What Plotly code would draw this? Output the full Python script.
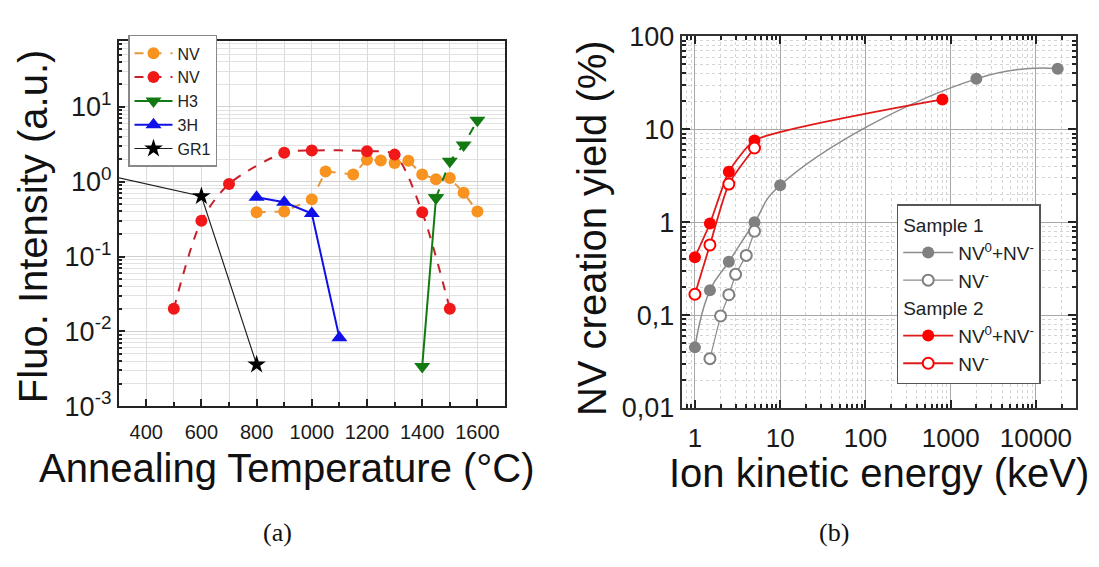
import plotly.graph_objects as go

# ---------------- (a) annealing study ----------------
nv1_temp = [800, 900, 1000, 1050, 1150, 1200, 1250, 1300, 1350, 1400, 1450, 1500, 1550, 1600]
nv1_val = [0.39, 0.40, 0.58, 1.37, 1.25, 1.96, 1.92, 1.78, 1.90, 1.25, 1.08, 1.12, 0.71, 0.40]

nv2_temp = [500, 600, 700, 900, 1000, 1200, 1300, 1400, 1500]
nv2_val = [0.020, 0.30, 0.93, 2.44, 2.61, 2.56, 2.30, 0.39, 0.020]

h3_temp = [1400, 1450, 1500, 1550, 1600]
h3_val = [0.0034, 0.61, 1.87, 3.1, 6.6]

h3b_temp = [800, 900, 1000, 1100]
h3b_val = [0.62, 0.53, 0.376, 0.0082]

gr1_temp = [25, 600, 800]
gr1_val = [1.9, 0.64, 0.0036]

temp_ticks = [400, 600, 800, 1000, 1200, 1400, 1600]
fluo_ticks = [1e-3, 1e-2, 1e-1, 1, 10]
fluo_ticktext = ["10<sup>-3</sup>", "10<sup>-2</sup>", "10<sup>-1</sup>", "10<sup>0</sup>", "10<sup>1</sup>"]

# ---------------- (b) creation yield vs energy ----------------
s1_tot_e = [1, 1.5, 2.5, 5, 10, 2000, 18000]
s1_tot_y = [0.045, 0.185, 0.376, 1.0, 2.5, 35, 45]

s1_neg_e = [1.5, 2, 2.5, 3, 4, 5]
s1_neg_y = [0.034, 0.098, 0.166, 0.275, 0.44, 0.80]

s2_tot_e = [1, 1.5, 2.5, 5, 800]
s2_tot_y = [0.42, 0.97, 3.5, 7.6, 21]

s2_neg_e = [1, 1.5, 2.5, 5]
s2_neg_y = [0.168, 0.57, 2.58, 6.3]

yield_ticks = [0.01, 0.1, 1, 10, 100]
yield_ticktext = ["0,01", "0,1", "1", "10", "100"]
energy_ticks = [1, 10, 100, 1000, 10000]
energy_ticktext = ["1", "10", "100", "1000", "10000"]

FONT = "Liberation Sans"
W, H = 1099, 567

ORANGE = "#F7931E"
ORANGE_LINE = "#E8963C"
RED = "#F01818"
RED_DASH = "#C8202A"
GREEN = "#137A13"
BLUE = "#1010E8"
GREY = "#808080"
GREY_LINE = "#8C8C8C"
RED_LINE = "#E01A1A"

fig = go.Figure()

# panel (a) traces
fig.add_trace(go.Scatter(
    x=nv1_temp, y=nv1_val, mode="lines+markers", name="NV",
    line=dict(color=ORANGE_LINE, width=2, dash="dash"),
    marker=dict(color=ORANGE, size=12, symbol="circle"),
    xaxis="x", yaxis="y", legend="legend"))
fig.add_trace(go.Scatter(
    x=nv2_temp, y=nv2_val, mode="lines+markers", name="NV",
    line=dict(color=RED_DASH, width=2, dash="dash", shape="spline", smoothing=0.8),
    marker=dict(color=RED, size=12, symbol="circle"),
    xaxis="x", yaxis="y", legend="legend"))
fig.add_trace(go.Scatter(
    x=h3_temp[:2], y=h3_val[:2], mode="lines+markers", name="H3",
    line=dict(color=GREEN, width=2),
    marker=dict(color=GREEN, size=14, symbol="triangle-down"),
    xaxis="x", yaxis="y", legend="legend", legendgroup="h3"))
fig.add_trace(go.Scatter(
    x=h3_temp[1:], y=h3_val[1:], mode="lines+markers", name="H3",
    line=dict(color=GREEN, width=2, dash="dash"),
    marker=dict(color=GREEN, size=14, symbol="triangle-down"),
    xaxis="x", yaxis="y", showlegend=False, legendgroup="h3"))
fig.add_trace(go.Scatter(
    x=h3b_temp, y=h3b_val, mode="lines+markers", name="3H",
    line=dict(color=BLUE, width=2),
    marker=dict(color=BLUE, size=14, symbol="triangle-up"),
    xaxis="x", yaxis="y", legend="legend"))
fig.add_trace(go.Scatter(
    x=gr1_temp, y=gr1_val, mode="lines+markers", name="GR1",
    line=dict(color="#202020", width=1.2),
    marker=dict(color="black", size=14, symbol="star"),
    xaxis="x", yaxis="y", legend="legend"))

# panel (b) traces
fig.add_trace(go.Scatter(
    x=s1_tot_e, y=s1_tot_y, mode="lines+markers", name="NV<sup>0</sup>+NV<sup>-</sup>",
    line=dict(color=GREY_LINE, width=1.5, shape="spline", smoothing=1.3),
    marker=dict(color=GREY, size=12, symbol="circle"),
    xaxis="x2", yaxis="y2", legend="legend2",
    legendgroup="s1", legendgrouptitle=dict(text="Sample 1", font=dict(family=FONT, size=19, color="#222"))))
fig.add_trace(go.Scatter(
    x=s1_neg_e, y=s1_neg_y, mode="lines+markers", name="NV<sup>-</sup>",
    line=dict(color=GREY_LINE, width=1.2),
    marker=dict(color="white", size=11, symbol="circle", line=dict(color=GREY, width=2)),
    xaxis="x2", yaxis="y2", legend="legend2", legendgroup="s1"))
fig.add_trace(go.Scatter(
    x=s2_tot_e, y=s2_tot_y, mode="lines+markers", name="NV<sup>0</sup>+NV<sup>-</sup>",
    line=dict(color=RED_LINE, width=1.8, shape="spline", smoothing=0.5),
    marker=dict(color="#FF0000", size=12, symbol="circle"),
    xaxis="x2", yaxis="y2", legend="legend2",
    legendgroup="s2", legendgrouptitle=dict(text="Sample 2", font=dict(family=FONT, size=19, color="#222"))))
fig.add_trace(go.Scatter(
    x=s2_neg_e, y=s2_neg_y, mode="lines+markers", name="NV<sup>-</sup>",
    line=dict(color=RED_LINE, width=1.8, shape="spline", smoothing=0.6),
    marker=dict(color="white", size=11, symbol="circle", line=dict(color="#FF0000", width=2)),
    xaxis="x2", yaxis="y2", legend="legend2", legendgroup="s2"))


def px_x(p):
    return p / W


def px_y(p):
    return 1 - p / H


def log_minors(lo, hi):
    vals = []
    for d in range(lo, hi):
        for m in range(2, 10):
            vals.append(m * 10.0 ** d)
    return vals


fig.update_layout(
    width=W, height=H,
    margin=dict(l=0, r=0, t=0, b=0),
    paper_bgcolor="white", plot_bgcolor="white",
    font=dict(family=FONT, color="#1a1a1a"),
    xaxis=dict(
        domain=[px_x(118.6), px_x(505)], anchor="y",
        range=[300, 1700], tickvals=temp_ticks,
        ticks="inside", ticklen=7, tickwidth=1.5, tickcolor="#222",
        showline=True, linecolor="#222", linewidth=1.5, mirror=True,
        showgrid=True, gridcolor="#DADADA", gridwidth=1,
        tickfont=dict(size=20, color="#1a1a1a"), ticklabelstandoff=7,
        minor=dict(dtick=100, tick0=0, ticks="inside", ticklen=4, tickcolor="#222",
                   showgrid=True, gridcolor="#DADADA"),
        zeroline=False,
    ),
    yaxis=dict(
        domain=[px_y(413), px_y(27)], anchor="x", type="log",
        range=[-3, 1.886], tickvals=fluo_ticks, ticktext=fluo_ticktext,
        ticks="inside", ticklen=7, tickwidth=1.5, tickcolor="#222",
        showline=True, linecolor="#222", linewidth=1.5, mirror=True,
        showgrid=True, gridcolor="#D0D0D0", gridwidth=1,
        tickfont=dict(size=27, color="#1a1a1a"),
        minor=dict(tickvals=log_minors(-3, 2), ticks="inside", ticklen=4, tickcolor="#222",
                   showgrid=True, gridcolor="#E2E2E2"),
        zeroline=False,
    ),
    xaxis2=dict(
        domain=[px_x(681.7), px_x(1076)], anchor="y2", type="log",
        range=[-0.155, 4.47], tickvals=energy_ticks, ticktext=energy_ticktext,
        ticks="inside", ticklen=8, tickwidth=1.5, tickcolor="#222",
        showline=True, linecolor="#333", linewidth=2, mirror="allticks",
        showgrid=True, gridcolor="#A8A8A8", gridwidth=1,
        tickfont=dict(size=26, color="#1a1a1a"), ticklabelstandoff=6,
        minor=dict(tickvals=log_minors(-1, 5), ticks="inside", ticklen=4, tickcolor="#222",
                   showgrid=True, gridcolor="#D4D4D4", griddash="dot"),
        zeroline=False,
    ),
    yaxis2=dict(
        domain=[px_y(415), px_y(22.7)], anchor="x2", type="log",
        range=[-2, 2], tickvals=yield_ticks, ticktext=yield_ticktext,
        ticks="inside", ticklen=8, tickwidth=1.5, tickcolor="#222",
        showline=True, linecolor="#333", linewidth=2, mirror="allticks",
        showgrid=True, gridcolor="#A8A8A8", gridwidth=1,
        tickfont=dict(size=27, color="#1a1a1a"),
        minor=dict(tickvals=log_minors(-2, 2), ticks="inside", ticklen=4, tickcolor="#222",
                   showgrid=True, gridcolor="#D4D4D4", griddash="dot"),
        zeroline=False,
    ),
    legend=dict(
        x=px_x(128), y=px_y(21), xanchor="left", yanchor="top",
        bgcolor="white", bordercolor="#888", borderwidth=1.5,
        font=dict(family=FONT, size=16, color="#222"),
        itemwidth=38, tracegroupgap=0,
    ),
    legend2=dict(
        x=px_x(896.7), y=px_y(200), xanchor="left", yanchor="top",
        bgcolor="white", bordercolor="#555", borderwidth=1.5,
        font=dict(family=FONT, size=19, color="#222"),
        itemwidth=50, tracegroupgap=0,
    ),
    showlegend=True,
)

# axis titles and panel captions
annotations = [
    dict(text="Annealing Temperature (°C)", x=px_x(287), y=px_y(478), xref="paper", yref="paper",
         showarrow=False, font=dict(family=FONT, size=40, color="#111"), xanchor="center", yanchor="middle"),
    dict(text="Fluo. Intensity (a.u.)", x=px_x(33), y=px_y(224), xref="paper", yref="paper",
         showarrow=False, textangle=-90, font=dict(family=FONT, size=40, color="#111"),
         xanchor="center", yanchor="middle"),
    dict(text="Ion kinetic energy (keV)", x=px_x(879), y=px_y(484), xref="paper", yref="paper",
         showarrow=False, font=dict(family=FONT, size=40, color="#111"), xanchor="center", yanchor="middle"),
    dict(text="NV creation yield (%)", x=px_x(592), y=px_y(225), xref="paper", yref="paper",
         showarrow=False, textangle=-90, font=dict(family=FONT, size=40, color="#111"),
         xanchor="center", yanchor="middle"),
    dict(text="(a)", x=px_x(277), y=px_y(546), xref="paper", yref="paper",
         showarrow=False, font=dict(family="Liberation Serif", size=26, color="#111"),
         xanchor="center", yanchor="middle"),
    dict(text="(b)", x=px_x(834), y=px_y(546), xref="paper", yref="paper",
         showarrow=False, font=dict(family="Liberation Serif", size=26, color="#111"),
         xanchor="center", yanchor="middle"),
]
fig.update_layout(annotations=annotations)

fig.write_html("out.html")
